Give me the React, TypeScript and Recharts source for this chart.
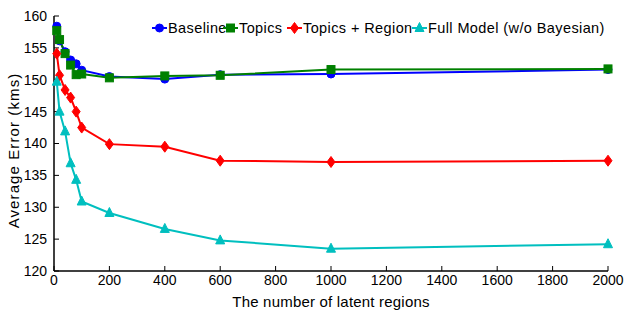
import { LineChart, Line, XAxis, YAxis } from "recharts";

const REGIONS = [10, 20, 40, 60, 80, 100, 200, 400, 600, 1000, 2000];
const BASELINE = [158.4, 156.1, 154.4, 153.1, 152.5, 151.5, 150.5, 150.1, 150.8, 150.9, 151.6];
const TOPICS = [157.7, 156.3, 154.1, 152.3, 150.8, 150.9, 150.3, 150.6, 150.7, 151.6, 151.7];
const TOPICS_REGION = [154.1, 150.7, 148.4, 147.2, 145.0, 142.5, 139.9, 139.5, 137.3, 137.1, 137.3];
const FULL_MODEL = [149.7, 145.0, 141.9, 136.9, 134.3, 130.9, 129.1, 126.6, 124.8, 123.5, 124.2];

const X_TICKS = [0, 200, 400, 600, 800, 1000, 1200, 1400, 1600, 1800, 2000];
const Y_TICKS = [120, 125, 130, 135, 140, 145, 150, 155, 160];

const FONT = "'Liberation Sans', Arial, sans-serif";

const SERIES = [
  { key: "baseline", name: "Baseline", color: "#0000FF", shape: "circle", w: 71 },
  { key: "topics", name: "Topics", color: "#008000", shape: "square", w: 64 },
  { key: "topicsRegion", name: "Topics + Region", color: "#FF0000", shape: "diamond", w: 125 },
  { key: "full", name: "Full Model (w/o Bayesian)", color: "#00BFBF", shape: "triangle", w: 194 },
];

const data = REGIONS.map((x, i) => ({
  x,
  baseline: BASELINE[i],
  topics: TOPICS[i],
  topicsRegion: TOPICS_REGION[i],
  full: FULL_MODEL[i],
}));

function markerShape(shape: string, cx: number, cy: number, color: string, key?: string | number) {
  if (shape === "circle") return <circle key={key} cx={cx} cy={cy} r={4} fill={color} stroke={color} />;
  if (shape === "square") return <rect key={key} x={cx - 4} y={cy - 4} width={8} height={8} fill={color} stroke={color} />;
  if (shape === "diamond")
    return <polygon key={key} points={`${cx},${cy - 5.5} ${cx + 4},${cy} ${cx},${cy + 5.5} ${cx - 4},${cy}`} fill={color} stroke={color} />;
  return <polygon key={key} points={`${cx},${cy - 5.5} ${cx + 4.5},${cy + 3.5} ${cx - 4.5},${cy + 3.5}`} fill={color} stroke={color} />;
}

function LegendBox() {
  return (
    <div
      style={{
        position: "absolute",
        top: 19,
        left: 152,
        display: "flex",
        alignItems: "center",
        fontFamily: FONT,
        fontSize: 14,
        lineHeight: "18px",
        color: "#000",
        whiteSpace: "nowrap",
      }}
    >
      {SERIES.map((s) => (
        <div key={s.key} style={{ display: "flex", alignItems: "center", width: s.w }}>
          <svg width={15} height={14} style={{ marginRight: 1, flex: "none" }}>
            <line x1={0} y1={7} x2={15} y2={7} stroke={s.color} strokeWidth={2} />
            {markerShape(s.shape, 7.5, 7, s.color)}
          </svg>
          <span style={{ fontSize: 14.5, letterSpacing: 0.4 }}>{s.name}</span>
        </div>
      ))}
    </div>
  );
}

export default function App() {
  return (
    <div style={{ position: "absolute", left: 0, top: 0, width: 624, height: 310, background: "#fff" }}>
      <LineChart width={624} height={310} data={data} margin={{ top: 16, right: 16, bottom: 0, left: 0 }}>
        <XAxis
          dataKey="x"
          type="number"
          domain={[0, 2000]}
          ticks={X_TICKS}
          height={39}
          tickSize={-5}
          tickMargin={9}
          axisLine={{ stroke: "#000", strokeWidth: 1.5 }}
          tickLine={{ stroke: "#000" }}
          tick={{ fill: "#000", fontSize: 14, fontFamily: FONT }}
          label={{ value: "The number of latent regions", position: "insideBottom", offset: 3, fill: "#000", fontSize: 15, fontFamily: FONT, letterSpacing: 0.2 }}
        />
        <XAxis
          xAxisId="top"
          orientation="top"
          type="number"
          domain={[0, 2000]}
          ticks={X_TICKS}
          height={0}
          tickSize={-5}
          tickFormatter={() => ""}
          axisLine={{ stroke: "#000", strokeWidth: 1.5 }}
          tickLine={{ stroke: "#000" }}
        />
        <YAxis
          type="number"
          domain={[120, 160]}
          ticks={Y_TICKS}
          width={54}
          tickSize={-5}
          tickMargin={12}
          axisLine={{ stroke: "#000", strokeWidth: 1.5 }}
          tickLine={{ stroke: "#000" }}
          tick={{ fill: "#000", fontSize: 14, fontFamily: FONT }}
          label={{ value: "Average Error (kms)", angle: -90, position: "insideLeft", offset: 0, dx: 14, dy: 7, fill: "#000", fontSize: 15, fontFamily: FONT, letterSpacing: 1.1, style: { textAnchor: "middle" } }}
        />
        <YAxis
          yAxisId="right"
          orientation="right"
          type="number"
          domain={[120, 160]}
          ticks={Y_TICKS}
          width={0}
          tickSize={-5}
          tickFormatter={() => ""}
          axisLine={{ stroke: "#000", strokeWidth: 1.5 }}
          tickLine={{ stroke: "#000" }}
        />
        {SERIES.map((s) => (
          <Line
            key={s.key}
            dataKey={s.key}
            name={s.name}
            stroke={s.color}
            strokeWidth={2}
            isAnimationActive={false}
            dot={(p: any) => markerShape(s.shape, p.cx, p.cy, s.color, `${s.key}-${p.index}`)}
            activeDot={false}
          />
        ))}
      </LineChart>
      <LegendBox />
    </div>
  );
}
